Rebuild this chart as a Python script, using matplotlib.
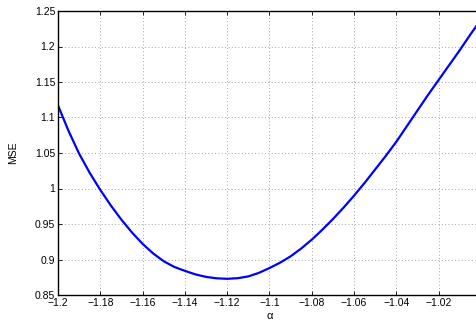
import numpy as np
import matplotlib.pyplot as plt

# values (step 0.005)
alpha = [-1.200, -1.195, -1.190, -1.185, -1.180, -1.175, -1.170, -1.165, -1.160,
         -1.155, -1.150, -1.145, -1.140, -1.135, -1.130, -1.125, -1.120, -1.115,
         -1.110, -1.105, -1.100, -1.095, -1.090, -1.085, -1.080, -1.075, -1.070,
         -1.065, -1.060, -1.055, -1.050, -1.045, -1.040, -1.035, -1.030, -1.025,
         -1.020, -1.015, -1.010, -1.005, -1.000]
mse = [1.1170, 1.0810, 1.0490, 1.0220, 0.9980, 0.9760, 0.9560, 0.9380, 0.9220,
       0.9085, 0.8975, 0.8895, 0.8840, 0.8790, 0.8755, 0.8735, 0.8728, 0.8737,
       0.8762, 0.8812, 0.8880, 0.8955, 0.9045, 0.9155, 0.9280, 0.9420, 0.9570,
       0.9730, 0.9900, 1.0080, 1.0270, 1.0460, 1.0660, 1.0880, 1.1100, 1.1320,
       1.1530, 1.1740, 1.1950, 1.2170, 1.2380]

x_ticks = [-1.2, -1.18, -1.16, -1.14, -1.12, -1.1, -1.08, -1.06, -1.04, -1.02, -1.0]
x_labels = ['\u22121.2', '\u22121.18', '\u22121.16', '\u22121.14', '\u22121.12', '\u22121.1',
            '\u22121.08', '\u22121.06', '\u22121.04', '\u22121.02', '\u22121']
y_ticks = [0.85, 0.9, 0.95, 1.0, 1.05, 1.1, 1.15, 1.2, 1.25]
y_labels = ['0.85', '0.9', '0.95', '1', '1.05', '1.1', '1.15', '1.2', '1.25']

plt.rcParams['font.family'] = ['Liberation Sans', 'DejaVu Sans']

fig = plt.figure(figsize=(4.77, 3.2), dpi=100)
ax = fig.add_axes([58 / 477, 25 / 320, 423 / 477, 284 / 320])

ax.plot(alpha, mse, color='#0000ff', lw=1.6)

ax.set_xlim(-1.2, -1.0)
ax.set_ylim(0.85, 1.25)
ax.set_xticks(x_ticks)
ax.set_xticklabels(x_labels)
ax.set_yticks(y_ticks)
ax.set_yticklabels(y_labels)
ax.tick_params(direction='in', top=True, right=True, labelsize=7.5, length=3, width=0.6, pad=2)
ax.grid(True, linestyle=(0, (1, 3)), color='#888888', lw=0.6)
for s in ax.spines.values():
    s.set_linewidth(1.0)

ax.set_xlabel('\u03b1', fontsize=8, labelpad=2)
ax.set_ylabel('MSE', fontsize=7.5, labelpad=12)

fig.savefig('out.png', dpi=100)
